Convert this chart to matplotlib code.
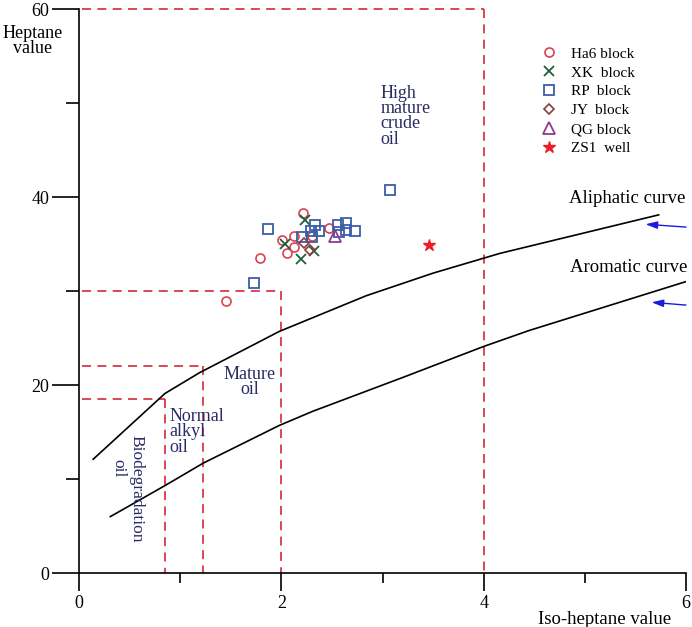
import numpy as np
import matplotlib.pyplot as plt
from matplotlib.ticker import MultipleLocator

plt.rcParams['font.family'] = ['Liberation Serif', 'DejaVu Serif']

# sample points (iso-heptane, heptane)
ha6_x = [2.21, 2.01, 2.13, 2.13, 2.06, 1.79, 1.45, 2.30, 2.47]
ha6_y = [38.3, 35.4, 35.8, 34.7, 34.0, 33.5, 28.9, 35.9, 36.7]
xk_x = [2.23, 2.04, 2.32, 2.19]
xk_y = [37.6, 35.0, 34.3, 33.4]
rp_x = [1.73, 1.87, 2.20, 2.30, 2.29, 2.33, 2.37, 2.56, 2.57, 2.64, 2.64, 2.73, 3.07]
rp_y = [30.9, 36.6, 35.7, 35.7, 36.4, 37.0, 36.4, 37.0, 36.3, 37.2, 36.5, 36.4, 40.7]
jy_x = [2.22, 2.28]
jy_y = [35.1, 34.4]
qg_x = [2.53]
qg_y = [35.9]
zs1_x = [3.46]
zs1_y = [34.9]

# reference curves
ali_x = [0.14, 0.85, 1.19, 1.98, 2.84, 3.5, 4.16, 5.73]
ali_y = [12.1, 19.1, 21.3, 25.7, 29.5, 31.9, 34.0, 38.1]
aro_x = [0.31, 0.85, 1.23, 1.98, 2.31, 3.2, 4.0, 4.45, 6.0]
aro_y = [6.0, 9.3, 11.7, 15.7, 17.2, 20.8, 24.1, 25.8, 31.0]

# zone boundaries: (x limit, y limit)
zones = [(4.0, 60), (2.0, 30), (1.23, 22), (0.85, 18.5)]

W, H = 692, 627
fig = plt.figure(figsize=(W / 100, H / 100), dpi=100)
ax = fig.add_axes([79 / W, 1 - 573 / H, (686 - 79) / W, (573 - 9) / H])
ax.set_xlim(0, 6)
ax.set_ylim(0, 60)

red = '#d8394a'
navy = '#2a2a66'
for zx, zy in zones:
    ax.plot([0.03, zx], [zy, zy], color=red, ls=(0, (5, 3.5)), lw=1.3, clip_on=False)
    ax.plot([zx, zx], [zy, 0], color=red, ls=(0, (5, 3.5)), lw=1.3, clip_on=False)

ax.plot(ali_x, ali_y, color='black', lw=1.2)
ax.plot(aro_x, aro_y, color='black', lw=1.2)

ms = 7
ax.plot(ha6_x, ha6_y, 'o', ms=6.5, mfc='none', mec='#d9424f', mew=1.2, ls='none', label='Ha6 block')
ax.plot(xk_x, xk_y, 'x', ms=ms, mec='#1e5e3c', mew=1.3, ls='none', label='XK  block')
ax.plot(rp_x, rp_y, 's', ms=ms, mfc='none', mec='#3b5ea8', mew=1.3, ls='none', label='RP  block')
ax.plot(jy_x, jy_y, 'D', ms=5, mfc='none', mec='#8a3b3b', mew=1.2, ls='none', label='JY  block')
ax.plot(qg_x, qg_y, '^', ms=8, mfc='none', mec='#8e3a8e', mew=1.3, ls='none', label='QG block')
ax.plot(zs1_x, zs1_y, '*', ms=9, color='#ee1c25', ls='none', label='ZS1  well')

leg = ax.legend(loc='upper left', bbox_to_anchor=((540 - 79) / 607, (573 - 47) / 564),
                frameon=False, fontsize=11, handlelength=1.2, handletextpad=0.8,
                labelspacing=0.34, borderpad=0, borderaxespad=0)

# arrows pointing at the curves
for x0, y0, x1, y1 in [(6.0, 36.8, 5.6, 37.1), (6.0, 28.5, 5.66, 28.8)]:
    ax.annotate('', xy=(x1, y1), xytext=(x0, y0), annotation_clip=False,
                arrowprops=dict(arrowstyle='-|>,head_length=0.7,head_width=0.22',
                                color='#1a1ae0', lw=1.0, shrinkA=0, shrinkB=0))

ax.text(5.42, 39.8, 'Aliphatic curve', fontsize=13.5, ha='center', va='center')
ax.text(5.43, 32.5, 'Aromatic curve', fontsize=13.5, ha='center', va='center')
ax.text(2.98, 48.6, 'High\nmature\ncrude\noil', fontsize=13, color=navy,
        ha='left', va='center', linespacing=0.88)
ax.text(1.69, 20.3, 'Mature\noil', fontsize=13, color=navy, ha='center', va='center',
        linespacing=0.88)
ax.text(0.89, 15.0, 'Normal\nalkyl\noil', fontsize=13, color=navy, ha='left', va='center',
        linespacing=0.9)
ax.text(0.57, 9.0, 'Biodegradation', fontsize=12.5, color=navy, rotation=270,
        ha='center', va='center')
ax.text(0.39, 11.2, 'oil', fontsize=12.5, color=navy, rotation=270,
        ha='center', va='center')

ax.spines['top'].set_visible(False)
ax.spines['right'].set_visible(False)
for s in ('left', 'bottom'):
    ax.spines[s].set_linewidth(1.2)
ax.xaxis.set_major_locator(MultipleLocator(2))
ax.xaxis.set_minor_locator(MultipleLocator(1))
ax.yaxis.set_major_locator(MultipleLocator(20))
ax.yaxis.set_minor_locator(MultipleLocator(10))
ax.tick_params(axis='x', which='major', direction='out', length=13, width=1.2, pad=3, labelsize=13)
ax.tick_params(axis='x', which='minor', direction='out', length=7, width=1.2)
ax.tick_params(axis='y', which='major', direction='out', length=19.5, width=1.2, pad=2, labelsize=13)
ax.tick_params(axis='y', which='minor', direction='out', length=9.5, width=1.2)

fig.text(33 / W, 1 - 41 / H, 'Heptane\nvalue', fontsize=13, ha='center', va='center', linespacing=0.9)
fig.text(605 / W, 1 - 619 / H, 'Iso-heptane value', fontsize=13.5, ha='center', va='center')

fig.savefig('out.png', dpi=100)
